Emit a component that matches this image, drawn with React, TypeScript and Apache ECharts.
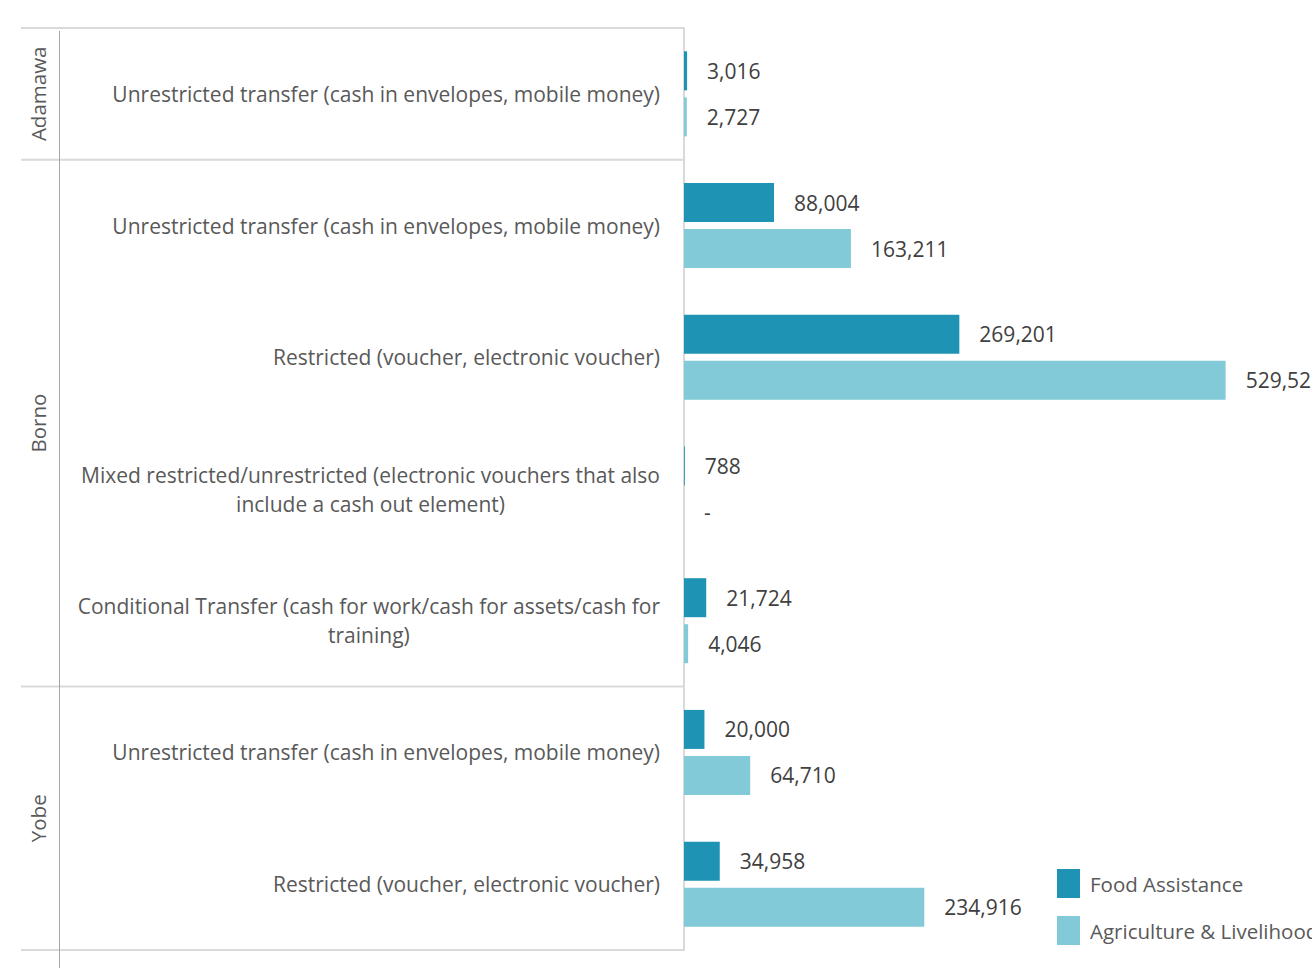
import React, { useEffect, useRef } from "react";
import * as echarts from "echarts";

const categories = [
  "Unrestricted transfer (cash in envelopes, mobile money)",
  "Unrestricted transfer (cash in envelopes, mobile money)",
  "Restricted (voucher, electronic voucher)",
  "Mixed restricted/unrestricted (electronic vouchers that also\ninclude a cash out element)",
  "Conditional Transfer (cash for work/cash for assets/cash for\ntraining)",
  "Unrestricted transfer (cash in envelopes, mobile money)",
  "Restricted (voucher, electronic voucher)",
];
const stateNames = ["Adamawa", "Borno", "Yobe"];
const stateCounts = [1, 4, 2];
const seriesNames = ["Food Assistance", "Agriculture & Livelihoods"];
const foodValues = [3016, 88004, 269201, 788, 21724, 20000, 34958];
const agriValues = [2727, 163211, 529525, 0, 4046, 64710, 234916];

const FONT = "'Open Sans', sans-serif";
const GRID_LEFT = 684;
const GRID_TOP = 28;
const GRID_H = 922;
const GRID_W = 718;

export default function App() {
  const ref = useRef<HTMLDivElement>(null);
  useEffect(() => {
    if (!ref.current) return;
    const chart = echarts.init(ref.current, undefined, { renderer: "svg" });
    const rowH = GRID_H / categories.length;
    const graphics: any[] = [];
    let start = 0;
    const bounds = [0];
    stateNames.forEach((name, i) => {
      const end = start + stateCounts[i];
      bounds.push(end);
      graphics.push({
        type: "text",
        x: 38,
        y: GRID_TOP + ((start + end) / 2) * rowH,
        rotation: Math.PI / 2,
        style: {
          text: name,
          align: "center",
          verticalAlign: "middle",
          fontSize: 20.5,
          fontFamily: FONT,
          fill: "#595959",
        },
      });
      start = end;
    });
    bounds.forEach((b) => {
      const y = GRID_TOP + b * rowH;
      graphics.push({
        type: "line",
        shape: { x1: 21, y1: y, x2: GRID_LEFT, y2: y },
        style: { stroke: "#d9d9d9", lineWidth: 2 },
      });
    });
    graphics.push({
      type: "line",
      shape: { x1: 59.5, y1: GRID_TOP + 3, x2: 59.5, y2: 968 },
      style: { stroke: "#a6a6a6", lineWidth: 1 },
    });

    const labelStyle = {
      show: true,
      position: "right",
      distance: 20,
      fontSize: 21,
      fontFamily: FONT,
      color: "#404040",
      formatter: (p: any) => (p.value === 0 ? "-" : Number(p.value).toLocaleString("en-US")),
    };

    chart.setOption({
      animation: false,
      textStyle: { fontFamily: FONT },
      grid: { left: GRID_LEFT, top: GRID_TOP, width: GRID_W, height: GRID_H, containLabel: false },
      xAxis: {
        type: "value",
        min: 0,
        max: 700000,
        show: false,
      },
      yAxis: {
        type: "category",
        inverse: true,
        data: categories,
        axisLine: { show: true, lineStyle: { color: "#d9d9d9", width: 2 } },
        axisTick: { show: false },
        splitLine: { show: false },
        axisLabel: {
          margin: 24,
          align: "right",
          formatter: (v: string) =>
            v
              .split("\n")
              .map((l) => `{a|${l}}`)
              .join("\n"),
          rich: {
            a: {
              align: "center",
              fontSize: 21,
              lineHeight: 29,
              fontFamily: FONT,
              color: "#595959",
            },
          },
        },
      },
      legend: {
        orient: "vertical",
        left: 1057,
        top: 869,
        padding: 0,
        itemWidth: 23,
        itemHeight: 29,
        itemGap: 18,
        icon: "rect",
        textStyle: { fontSize: 20.5, fontFamily: FONT, color: "#595959", padding: [0, 0, 0, 5] },
        data: seriesNames,
      },
      series: [
        {
          name: seriesNames[0],
          type: "bar",
          data: foodValues,
          barWidth: 39,
          barGap: "18%",
          itemStyle: { color: "#1f93b3" },
          label: labelStyle,
        },
        {
          name: seriesNames[1],
          type: "bar",
          data: agriValues,
          barWidth: 39,
          barGap: "18%",
          itemStyle: { color: "#82cad7" },
          label: labelStyle,
        },
      ],
      graphic: graphics,
    });
    return () => chart.dispose();
  }, []);

  return (
    <div style={{ position: "absolute", left: 0, top: 0, width: 1312, height: 968, overflow: "hidden", background: "#fff" }}>
      <div ref={ref} style={{ width: 1400, height: 968 }} />
    </div>
  );
}
